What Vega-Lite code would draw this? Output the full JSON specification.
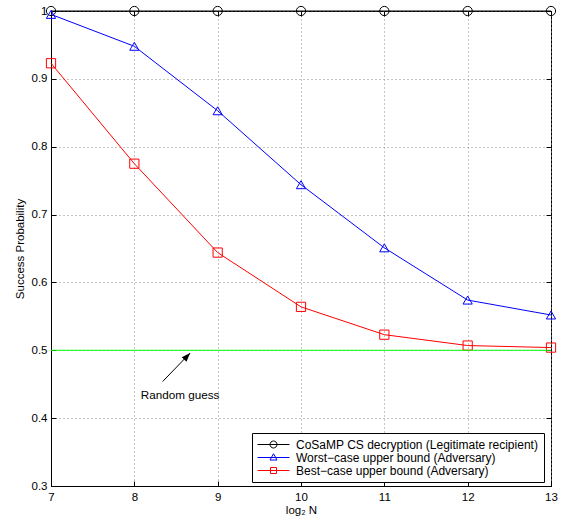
{
  "$schema": "https://vega.github.io/schema/vega-lite/v6.json",
  "width": 500,
  "height": 475,
  "autosize": {"type": "none"},
  "padding": {"left": 51, "top": 11, "right": 10, "bottom": 34},
  "background": "white",
  "config": {
    "font": "Liberation Sans",
    "view": {"stroke": "#000000", "strokeWidth": 1},
    "axis": {
      "domainColor": "#000000",
      "domainWidth": 1,
      "tickColor": "#000000",
      "tickSize": -5,
      "labelColor": "#000000",
      "labelFontSize": 11.5,
      "titleColor": "#000000",
      "titleFontSize": 11.5,
      "titleFontWeight": "normal",
      "gridColor": "#8c8c8c",
      "gridDash": [1, 3],
      "gridWidth": 1,
      "gridOpacity": 1
    }
  },
  "datasets": {
    "curves": [
      {"x": 7, "y": 1.0, "series": "CoSaMP CS decryption (Legitimate recipient)"},
      {"x": 8, "y": 1.0, "series": "CoSaMP CS decryption (Legitimate recipient)"},
      {"x": 9, "y": 1.0, "series": "CoSaMP CS decryption (Legitimate recipient)"},
      {"x": 10, "y": 1.0, "series": "CoSaMP CS decryption (Legitimate recipient)"},
      {"x": 11, "y": 1.0, "series": "CoSaMP CS decryption (Legitimate recipient)"},
      {"x": 12, "y": 1.0, "series": "CoSaMP CS decryption (Legitimate recipient)"},
      {"x": 13, "y": 1.0, "series": "CoSaMP CS decryption (Legitimate recipient)"},
      {"x": 7, "y": 0.995, "series": "Worst−case upper bound (Adversary)"},
      {"x": 8, "y": 0.948, "series": "Worst−case upper bound (Adversary)"},
      {"x": 9, "y": 0.853, "series": "Worst−case upper bound (Adversary)"},
      {"x": 10, "y": 0.744, "series": "Worst−case upper bound (Adversary)"},
      {"x": 11, "y": 0.651, "series": "Worst−case upper bound (Adversary)"},
      {"x": 12, "y": 0.574, "series": "Worst−case upper bound (Adversary)"},
      {"x": 13, "y": 0.552, "series": "Worst−case upper bound (Adversary)"},
      {"x": 7, "y": 0.923, "series": "Best−case upper bound (Adversary)"},
      {"x": 8, "y": 0.775, "series": "Best−case upper bound (Adversary)"},
      {"x": 9, "y": 0.644, "series": "Best−case upper bound (Adversary)"},
      {"x": 10, "y": 0.564, "series": "Best−case upper bound (Adversary)"},
      {"x": 11, "y": 0.523, "series": "Best−case upper bound (Adversary)"},
      {"x": 12, "y": 0.507, "series": "Best−case upper bound (Adversary)"},
      {"x": 13, "y": 0.504, "series": "Best−case upper bound (Adversary)"}
    ],
    "guess": [{"x": 7, "y": 0.5}, {"x": 13, "y": 0.5}],
    "arrow": [{"x": 8.34, "y": 0.454, "x2": 8.67, "y2": 0.496}],
    "note": [{"x": 8.55, "y": 0.434, "label": "Random guess"}],
    "legend": [
      {"x": 7, "y": 0, "series": "CoSaMP CS decryption (Legitimate recipient)"},
      {"x": 7, "y": 0, "series": "Worst−case upper bound (Adversary)"},
      {"x": 7, "y": 0, "series": "Best−case upper bound (Adversary)"}
    ]
  },
  "resolve": {
    "scale": {"color": "independent", "shape": "independent"},
    "axis": {"x": "independent", "y": "independent"}
  },
  "layer": [
    {
      "data": {"name": "curves"},
      "mark": {"type": "line", "strokeWidth": 1},
      "encoding": {
        "x": {"field": "x", "type": "quantitative", "scale": {"domain": [7, 13], "nice": false, "zero": false},
          "axis": {"values": [7, 8, 9, 10, 11, 12, 13], "grid": true, "title": "log₂ N", "labelPadding": 10, "labelFlush": false, "titleY": 27, "titleBaseline": "alphabetic"}},
        "y": {"field": "y", "type": "quantitative", "scale": {"domain": [0.3, 1], "nice": false, "zero": false},
          "axis": {"values": [0.3, 0.4, 0.5, 0.6, 0.7, 0.8, 0.9, 1], "format": ".1~f", "grid": true, "title": "Success Probability", "labelPadding": 9, "titleX": -28, "titleBaseline": "alphabetic"}},
        "color": {"field": "series", "type": "nominal",
          "scale": {"domain": ["CoSaMP CS decryption (Legitimate recipient)", "Worst−case upper bound (Adversary)", "Best−case upper bound (Adversary)"], "range": ["#000000", "#0000ff", "#ff0000"]},
          "legend": null}
      }
    },
    {
      "data": {"name": "curves"},
      "mark": {"type": "point", "filled": false, "opacity": 1, "strokeWidth": 1, "size": 85},
      "encoding": {
        "x": {"field": "x", "type": "quantitative", "axis": null},
        "y": {"field": "y", "type": "quantitative", "axis": null},
        "color": {"field": "series", "type": "nominal",
          "scale": {"domain": ["CoSaMP CS decryption (Legitimate recipient)", "Worst−case upper bound (Adversary)", "Best−case upper bound (Adversary)"], "range": ["#000000", "#0000ff", "#ff0000"]},
          "legend": null},
        "shape": {"field": "series", "type": "nominal",
          "scale": {"domain": ["CoSaMP CS decryption (Legitimate recipient)", "Worst−case upper bound (Adversary)", "Best−case upper bound (Adversary)"], "range": ["circle", "triangle-up", "square"]},
          "legend": null}
      }
    },
    {
      "data": {"name": "guess"},
      "mark": {"type": "line", "color": "#00ff00", "strokeWidth": 1},
      "encoding": {
        "x": {"field": "x", "type": "quantitative",
          "axis": {"orient": "top", "values": [7, 8, 9, 10, 11, 12, 13], "labels": false, "grid": false, "domain": false, "title": null}},
        "y": {"field": "y", "type": "quantitative",
          "axis": {"orient": "right", "values": [0.3, 0.4, 0.5, 0.6, 0.7, 0.8, 0.9, 1], "labels": false, "grid": false, "domain": false, "title": null}}
      }
    },
    {
      "data": {"name": "arrow"},
      "mark": {"type": "rule", "color": "#000000", "strokeWidth": 1},
      "encoding": {
        "x": {"field": "x", "type": "quantitative", "axis": null},
        "y": {"field": "y", "type": "quantitative", "axis": null},
        "x2": {"field": "x2"},
        "y2": {"field": "y2"}
      }
    },
    {
      "data": {"name": "arrow"},
      "mark": {"type": "point", "shape": "M0,0L-0.4,1.1L0.4,1.1Z", "filled": true, "color": "#000000", "opacity": 1, "size": 260, "angle": 43},
      "encoding": {
        "x": {"field": "x2", "type": "quantitative", "axis": null},
        "y": {"field": "y2", "type": "quantitative", "axis": null}
      }
    },
    {
      "data": {"name": "note"},
      "mark": {"type": "text", "fontSize": 11.7, "color": "#000000", "align": "center", "baseline": "middle"},
      "encoding": {
        "x": {"field": "x", "type": "quantitative", "axis": null},
        "y": {"field": "y", "type": "quantitative", "axis": null},
        "text": {"field": "label"}
      }
    },
    {
      "data": {"name": "legend"},
      "mark": {"type": "point", "filled": false, "opacity": 1, "strokeWidth": 1, "size": 144, "clip": true},
      "encoding": {
        "x": {"field": "x", "type": "quantitative", "axis": null},
        "y": {"field": "y", "type": "quantitative", "axis": null},
        "shape": {"field": "series", "type": "nominal",
          "scale": {"domain": ["CoSaMP CS decryption (Legitimate recipient)", "Worst−case upper bound (Adversary)", "Best−case upper bound (Adversary)"],
            "range": ["M-1,0H4.333M2.25,0A0.583,0.583,0,1,1,1.083,0A0.583,0.583,0,1,1,2.25,0", "M-1,0H4.333M1.667,-0.62L2.25,0.42L1.083,0.42Z", "M-1,0H4.333M1.167,-0.5H2.167V0.5H1.167Z"]},
          "legend": {"title": null, "orient": "none", "legendX": 201, "legendY": 422, "strokeColor": "#000000", "fillColor": "#ffffff", "padding": 5, "symbolSize": 144, "symbolStrokeWidth": 1, "symbolFillColor": "transparent", "labelFontSize": 12, "labelColor": "#000000", "labelOffset": 26, "rowPadding": 0, "labelLimit": 400,
            "symbolStrokeColor": {"expr": "datum.index === 0 ? '#000000' : datum.index === 1 ? '#0000ff' : '#ff0000'"}}}
      }
    }
  ]
}
